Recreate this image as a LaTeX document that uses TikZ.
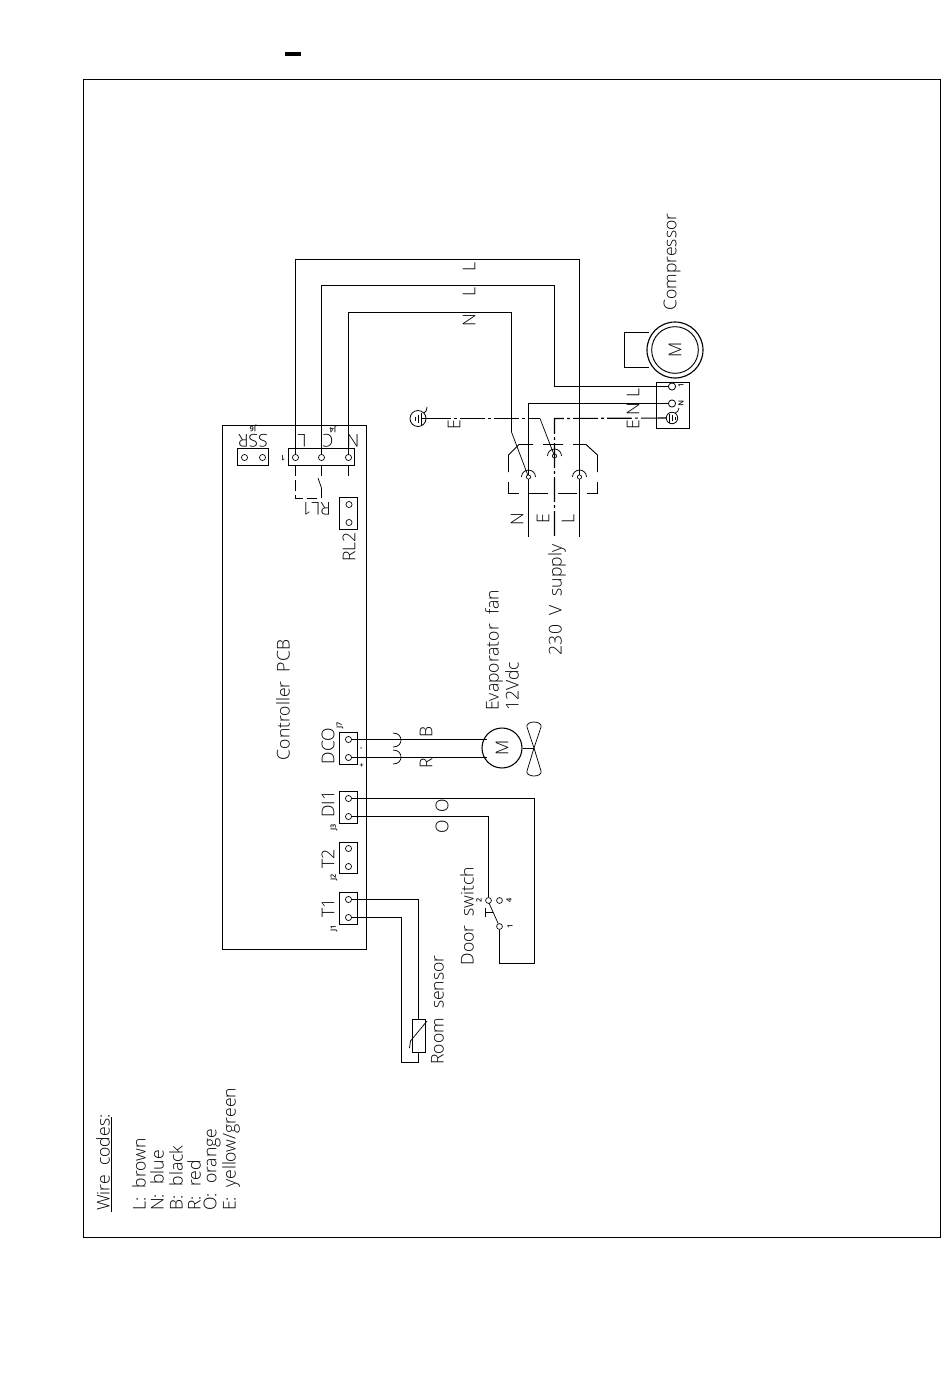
\documentclass[tikz,border=0pt]{standalone}
\usepackage{fontspec}
\setmainfont{Open Sans}[UprightFont=* Light]
\tikzset{
  wire/.style={line width=0.85pt},
  thinwire/.style={line width=0.55pt},
  earthwire/.style={line width=0.85pt,dash pattern={on 18.5pt off 2.5pt on 2pt off 2.5pt}},
  relaywire/.style={line width=0.6pt,dash pattern={on 8pt off 3pt}},
  sockwire/.style={line width=0.7pt},
  term/.style={circle,draw,line width=0.5pt,inner sep=0pt,minimum size=4.6pt},
  bigterm/.style={circle,draw,line width=0.6pt,inner sep=0pt,minimum size=5.4pt},
  smallterm/.style={circle,draw,line width=0.5pt,inner sep=0pt,minimum size=3.2pt},
  lab/.style={inner sep=0.75pt,font=\fontsize{13.2}{15}\selectfont,rotate=90},
  flip/.style={inner sep=0.75pt,font=\fontsize{13.2}{15}\selectfont,rotate=180},
  tinylab/.style={inner sep=0.5pt,font=\fontsize{5.5}{6}\selectfont\bfseries,rotate=90},
  tinyflip/.style={inner sep=0.5pt,font=\fontsize{5.5}{6}\selectfont\bfseries,rotate=180},
}
\begin{document}
\begin{tikzpicture}[x=0.75pt,y=0.75pt,yscale=-1,xscale=1]
    \useasboundingbox (0,0) rectangle (950,1397);

    %Shape: Title bar
    \draw [line width=2.6pt] (285,54) -- (301,54);
    %Shape: Frame
    \draw [wire] (83.5,79.5) rectangle (940.5,1237.5);
    %Shape: Controller board
    \draw [wire] (222.5,425.5) rectangle (366.5,949.5);

    %Shape: Connectors on the board
    \draw [wire] (288.5,448.5) rectangle (354.5,465.5);
    \draw [wire] (237.5,448.5) rectangle (268.5,465.5);
    \draw [wire] (339.5,497.5) rectangle (357.5,529.5);
    \draw [wire] (339.5,732.5) rectangle (357.5,764.5);
    \draw [wire] (339.5,791.5) rectangle (357.5,823.5);
    \draw [wire] (339.5,842.5) rectangle (357.5,873.5);
    \draw [wire] (339.5,892.5) rectangle (357.5,924.5);

    % Terminals
    \node [term] (jfourL) at (295.5,457.5) {};
    \node [term] (jfourC) at (321.5,457.5) {};
    \node [term] (jfourN) at (348.5,457.5) {};
    \node [term] (ssrA) at (244.5,457.5) {};
    \node [term] (ssrB) at (262.5,457.5) {};
    \node [term] (rltwoA) at (349,504.5) {};
    \node [term] (rltwoB) at (349,522.5) {};
    \node [term] (dcoA) at (348.5,739.5) {};
    \node [term] (dcoB) at (348.5,757.5) {};
    \node [term] (dioneA) at (348.5,798.5) {};
    \node [term] (dioneB) at (348.5,816.5) {};
    \node [term] (ttwoA) at (348.5,848.5) {};
    \node [term] (ttwoB) at (348.5,866.5) {};
    \node [term] (toneA) at (348.5,899.5) {};
    \node [term] (toneB) at (348.5,917.5) {};
    \node [smallterm] (sockN) at (528.5,477) {};
    \node [smallterm] (sockE) at (554.5,456) {};
    \node [smallterm] (sockL) at (579.5,477) {};
    \node [bigterm] (compOne) at (672,386.5) {};
    \node [bigterm] (compTwo) at (672,403.5) {};
    \node [smallterm,minimum size=4.4pt] (doorTwo) at (488.5,900.5) {};
    \node [smallterm,minimum size=4.4pt] (doorFour) at (499.5,900.5) {};
    \node [smallterm,minimum size=4.4pt] (doorOne) at (499.5,926.5) {};
    \node [draw,circle,line width=0.6pt,inner sep=0pt,minimum size=12pt] (earthA) at (418,418.5) {};
    \node [draw,circle,line width=0.6pt,inner sep=0pt,minimum size=8.6pt] (earthB) at (672,418) {};
    \node [draw,circle,line width=0.8pt,inner sep=0pt,minimum size=30pt] (fanMotor) at (502,748) {};
    \coordinate (lineN) at (528.5,537);
    \coordinate (lineE) at (554.5,537);
    \coordinate (lineL) at (579.5,537);
    \coordinate (bendN) at (511.5,432);
    \coordinate (bendE) at (540,418.5);
    \coordinate (joinE) at (554.5,418.5);
    \coordinate (fanHub) at (534,748);

    %Shape: Mains wires
    \draw [wire] (jfourL) -- ++(0,-198) -| (sockL);
    \draw [wire] (sockL) -- (lineL);
    \draw [wire] (jfourC) -- ++(0,-172) -- ++(233,0) |- (compOne);
    \draw [wire] (jfourN) -- ++(0,-145) -| (bendN);
    \draw [thinwire] (bendN) -- (sockN);
    \draw [wire] (compTwo) -| (sockN);
    \draw [wire] (sockN) -- (lineN);

    %Shape: Earth wires
    \draw [earthwire] (earthA) -- (bendE);
    \draw [thinwire] (bendE) -- (sockE);
    \draw [earthwire] (earthB) -- (joinE) -- (lineE);

    %Shape: Earth symbols
    \draw [thinwire] (earthA.center) ++(3,-6) -- ++(0,12) (earthA.center) ++(0,-4) -- ++(0,8) (earthA.center) ++(-3,-2) -- ++(0,4) (earthA.center) ++(3,0) -- (earthA.east);
    \draw [thinwire] (424,413) .. controls (426,412) and (427,410) .. (427,407);
    \draw [thinwire] (earthB.center) ++(-3,-4.5) -- ++(0,9) (earthB.center) ++(0,-3) -- ++(0,6) (earthB.center) ++(3,-1.5) -- ++(0,3);
    \draw [thinwire] (675,413) .. controls (677,412) and (679,411) .. (679,408);

    %Shape: Socket outline
    \draw [sockwire] (508.5,472) -- (508.5,455) -- (519,444.5) -- (533,444.5) (543,444.5) -- (563,444.5) (573,444.5) -- (586,444.5) -- (597.5,455) -- (597.5,472);
    \draw [sockwire] (508.5,482) -- (508.5,493.5) -- (519,493.5) (528,493.5) -- (548,493.5) (558,493.5) -- (577,493.5) (587,493.5) -- (597.5,493.5) -- (597.5,482);
    \draw [thinwire] (521.5,477) arc [start angle=180,end angle=360,radius=7];
    \draw [thinwire] (547.5,456) arc [start angle=180,end angle=360,radius=7];
    \draw [thinwire] (572.5,477) arc [start angle=180,end angle=360,radius=7];

    %Shape: Compressor
    \node [draw,circle,line width=0.7pt,inner sep=0pt,minimum size=35pt] (compMotor) at (675,350) {};
    \draw [wire] (675,350) circle [radius=28];
    \draw [wire] (649,332.5) -- (624.5,332.5) -- (624.5,367.5) -- (649,367.5);
    \draw [wire] (656.5,382.5) rectangle (689.5,428.5);

    %Shape: Relay inside the board
    \draw [relaywire] (295.5,465.5) -- (295.5,498.5) -- (320,498.5);
    \draw [relaywire] (321.5,465.5) -- (321.5,478);
    \draw [thinwire] (318,478) -- (321.5,488) -- (321.5,498);
    \draw [relaywire] (348.5,465.5) -- (348.5,479);

    %Shape: Evaporator fan
    \draw [wire] (dcoA) -- (fanMotor.north west |- dcoA);
    \draw [wire] (dcoB) -- (fanMotor.south west |- dcoB);
    \draw [thinwire] (393,733) .. controls (399,733) and (401,737) .. (401,740) .. controls (401,743) and (399,747) .. (393,747);
    \draw [thinwire] (393,750) .. controls (399,750) and (401,754) .. (401,757) .. controls (401,760) and (399,764) .. (393,764);
    \draw [thinwire] (fanMotor) -- (fanHub);
    \draw [thinwire] (fanHub) -- (527,727) .. controls (526,724) and (530,722) .. (534,722) .. controls (538,722) and (542,724) .. (541,727) -- cycle;
    \draw [thinwire] (fanHub) -- (527,771) .. controls (526,774) and (530,776) .. (534,776) .. controls (538,776) and (542,774) .. (541,771) -- cycle;

    %Shape: Door switch wires
    \draw [wire] (dioneA) -- ++(186,0) |- (499.5,963.5) -- (doorOne);
    \draw [wire] (dioneB) -| (doorTwo);
    \draw [thinwire] (doorOne) -- (489,903);
    \draw [thinwire] (485,912) -- (493,912) (485,908) -- (485,917);

    %Shape: Room sensor
    \draw [wire] (toneA) -- ++(70,0) -- ++(0,120) ;
    \draw [wire] (418.5,1052.5) -- (418.5,1062.5) -- (401.5,1062.5) |- (toneB);
    \draw [wire] (412.5,1019.5) rectangle (425.5,1052.5);
    \draw [thinwire] (427,1021) -- (410.5,1041) -- (409.5,1048);

    % Text Node
    \node [lab] (compLabel) at (672,262) {Compressor};
    \node [lab] (compM) at (675,350) {M};
    \node [lab] (wireOne) at (469,267) {L};
    \node [lab] (wireTwo) at (469,292) {L};
    \node [lab] (wireThree) at (469,320) {N};
    \node [lab] (compWireL) at (633,393) {L};
    \node [lab] (compWireN) at (633,409) {N};
    \node [lab] (compWireE) at (633,425) {E};
    \node [lab] (earthLabel) at (454,425) {E};
    \node [lab] (supplyN) at (517,519) {N};
    \node [lab] (supplyE) at (543,519) {E};
    \node [lab] (supplyL) at (568,519) {L};
    \node [lab] (supplyLabel) at (557,600) {230\ \ V\ \ supply};
    \node [lab,anchor=west] (fanLabel) at (494,712) {Evaporator\ \ fan};
    \node [lab,anchor=west] (fanVolt) at (512,712) {12Vdc};
    \node [lab] (fanM) at (502,748) {M};
    \node [lab] (wireB) at (426,732) {B};
    \node [lab] (wireR) at (426,763) {R};
    \node [lab] (wireOa) at (442,806) {O};
    \node [lab] (wireOb) at (442,827) {O};
    \node [lab] (pcbLabel) at (283,700) {Controller\ \ PCB};
    \node [lab] (rltwoLabel) at (349,547) {RL2};
    \node [lab] (dcoLabel) at (328,746) {DCO};
    \node [lab] (dioneLabel) at (328,804) {DI1};
    \node [lab] (ttwoLabel) at (328,859) {T2};
    \node [lab] (toneLabel) at (328,908) {T1};
    \node [lab] (doorLabel) at (467,916) {Door\ \ switch};
    \node [lab] (roomLabel) at (437.5,1010) {Room\ \ sensor};
    \node [flip] (jfourLabelL) at (302,441) {L};
    \node [flip] (jfourLabelC) at (328,441) {C};
    \node [flip] (jfourLabelN) at (353,441) {N};
    \node [flip] (ssrLabel) at (253,441) {SSR};
    \node [flip] (rloneLabel) at (316,509) {RL1};
    \node [tinyflip] (jfourTag) at (333,429) {J4};
    \node [tinyflip] (jsixTag) at (253,428) {J6};
    \node [tinyflip] (oneTag) at (283,458) {1};
    \node [tinylab] (jsevenTag) at (340,725) {J7};
    \node [tinylab] (jthreeTag) at (334,827) {J3};
    \node [tinylab] (jtwoTag) at (334,877) {J2};
    \node [tinylab] (joneTag) at (334,928) {J1};
    \node [tinylab] (minusTag) at (362,748) {-};
    \node [tinylab] (plusTag) at (362,765) {+};
    \node [tinylab] (doorTagTwo) at (479,900) {2};
    \node [tinylab] (doorTagFour) at (509,900) {4};
    \node [tinylab] (doorTagOne) at (510,926) {1};
    \node [tinylab] (compTagOne) at (681,385) {1};
    \node [tinylab,rotate=-180] (compTagN) at (681,403) {N};

    % Wire code list
    \node [lab,anchor=west] (codeTitle) at (103,1212) {Wire\ \ codes:};
    \draw [wire] (111.5,1212) -- (111.5,1117);
    \node [lab,anchor=west] (codeL) at (139,1212) {L:\ \ brown};
    \node [lab,anchor=west] (codeN) at (157,1212) {N:\ \ blue};
    \node [lab,anchor=west] (codeB) at (176,1212) {B:\ \ black};
    \node [lab,anchor=west] (codeR) at (194,1212) {R:\ \ red};
    \node [lab,anchor=west] (codeO) at (212,1212) {O:\ \ orange};
    \node [lab,anchor=west] (codeE) at (231,1212) {E:\ \ yellow/green};
\end{tikzpicture}
\end{document}
